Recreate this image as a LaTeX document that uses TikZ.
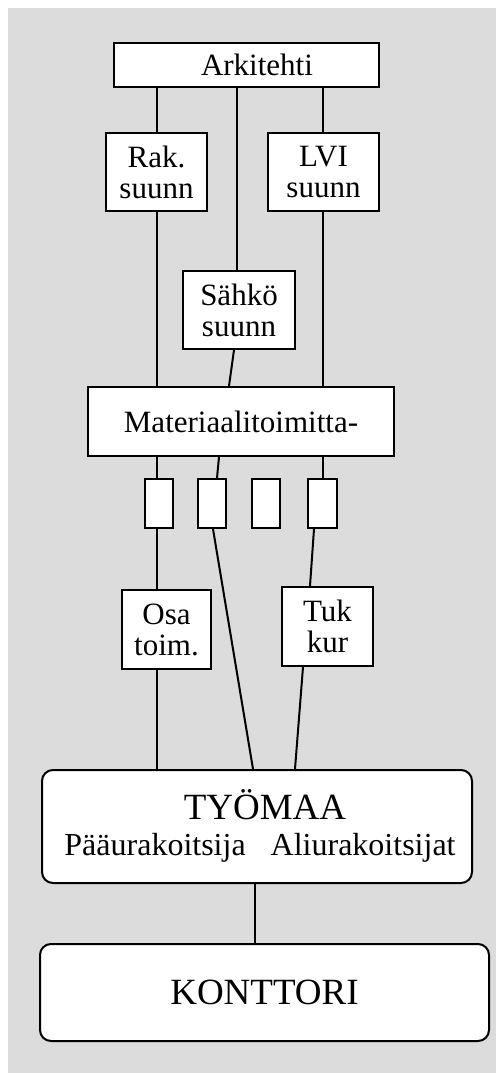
\documentclass[tikz,border=0pt]{standalone}
\usepackage{fontspec}
\setmainfont{Liberation Serif}
\begin{document}
\begin{tikzpicture}[x=1pt,y=-1pt,
  box/.style={draw=black,line width=2pt,fill=white,inner sep=0pt,align=center,
    font=\fontsize{31}{31}\selectfont},
  slot/.style={draw=black,line width=2pt,fill=white,inner sep=0pt},
  rbox/.style={box,rounded corners=11pt},
  link/.style={line width=2pt}]
\useasboundingbox (0,0) rectangle (496,1073);
\fill[fill={rgb,255:red,220;green,220;blue,220}] (8,8) rectangle (496,1073);

% columns of the connectors
\coordinate (cA) at (157,0);
\coordinate (cB) at (237,0);
\coordinate (cC) at (323,0);
\coordinate (sA) at (234,0);
\coordinate (sB) at (229,0);
\coordinate (mB) at (219,0);
\coordinate (bB) at (217,0);
\coordinate (bBl) at (213,0);
\coordinate (tA) at (253,0);
\coordinate (bD) at (314,0);
\coordinate (uT) at (310,0);
\coordinate (uB) at (303,0);
\coordinate (tB) at (295,0);
\coordinate (kA) at (255,0);

% design parties
\node[box,minimum width=265pt,minimum height=44pt] (ark) at (246.5,65) {\hspace*{21pt}Arkitehti};
\node[box,minimum width=101pt,minimum height=78pt] (rak) at (156.5,172) {Rak.\\suunn};
\node[box,minimum width=111pt,minimum height=78pt] (lvi) at (323.5,172) {LVI\\suunn};
\node[box,minimum width=112pt,minimum height=78pt] (sah) at (239,310) {Sähkö\\suunn};

% material deliveries
\node[box,minimum width=306pt,minimum height=69pt] (mat) at (241,421.5) {Materiaalitoimitta-};
\node[slot,minimum width=28pt,minimum height=49pt] (s1) at (159,503.5) {};
\node[slot,minimum width=28pt,minimum height=49pt] (s2) at (212,503.5) {};
\node[slot,minimum width=28pt,minimum height=49pt] (s3) at (266,503.5) {};
\node[slot,minimum width=29pt,minimum height=49pt] (s4) at (322.5,503.5) {};
\node[box,minimum width=89pt,minimum height=79pt] (osa) at (166.5,629.5) {Osa\\toim.};
\node[box,minimum width=91pt,minimum height=79pt] (tuk) at (327.5,626.5) {Tuk\\kur};

% site and office
\node[rbox,minimum width=430pt,minimum height=113pt] (ty) at (257,826.5) {};
\node[font=\fontsize{37}{37}\selectfont,inner sep=0pt,anchor=base] (tyt) at (265,819) {TYÖMAA};
\node[font=\fontsize{32}{32}\selectfont,inner sep=0pt,anchor=base] (tys) at (260,855)
  {Pääurakoitsija\hspace{25pt}Aliurakoitsijat};
\node[rbox,minimum width=449pt,minimum height=97pt,font=\fontsize{37}{37}\selectfont] (ko) at (264.5,992.5) {KONTTORI};

% connectors
\draw[link] (ark.south -| cA) -- (rak.north -| cA);
\draw[link] (ark.south -| cB) -- (sah.north -| cB);
\draw[link] (ark.south -| cC) -- (lvi.north -| cC);
\draw[link] (rak.south -| cA) -- (mat.north -| cA);
\draw[link] (lvi.south -| cC) -- (mat.north -| cC);
\draw[link] (sah.south -| sA) -- (mat.north -| sB);
\draw[link] (mat.south -| cA) -- (s1.north -| cA);
\draw[link] (mat.south -| mB) -- (s2.north -| bB);
\draw[link] (mat.south -| cC) -- (s4.north -| cC);
\draw[link] (s1.south -| cA) -- (osa.north -| cA);
\draw[link] (s2.south -| bBl) -- (ty.north -| tA);
\draw[link] (s4.south -| bD) -- (tuk.north -| uT);
\draw[link] (osa.south -| cA) -- (ty.north -| cA);
\draw[link] (tuk.south -| uB) -- (ty.north -| tB);
\draw[link] (ty.south -| kA) -- (ko.north -| kA);
\end{tikzpicture}
\end{document}
